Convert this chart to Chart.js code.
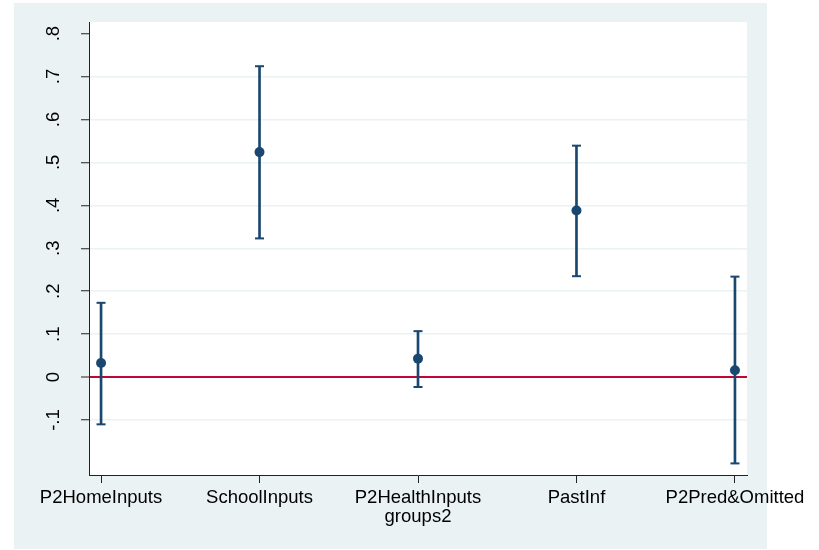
<!DOCTYPE html>
<html>
<head>
<meta charset="utf-8">
<script src="https://cdn.jsdelivr.net/npm/chart.js@4.4.1/dist/chart.umd.min.js"></script>
<style>
	html, body { margin: 0; padding: 0; background: #fff; }
	#bg { position: absolute; left: 14px; top: 3px; width: 753px; height: 546px; background: #eaf2f3; }
	#myChart { position: absolute; left: 0; top: 0; }
</style>
</head>
<body>
<div id="bg"></div>
<canvas id="myChart" width="819" height="550"></canvas>
<script>
// values
const categories = ['P2HomeInputs', 'SchoolInputs', 'P2HealthInputs', 'PastInf', 'P2Pred&Omitted'];
const estimates = [0.033, 0.524, 0.043, 0.388, 0.016];
const lowerCI = [-0.110, 0.323, -0.023, 0.235, -0.201];
const upperCI = [0.173, 0.724, 0.107, 0.539, 0.234];
const yTicks = [-0.1, 0, 0.1, 0.2, 0.3, 0.4, 0.5, 0.6, 0.7, 0.8];
const yTickLabels = ['-.1', '0', '.1', '.2', '.3', '.4', '.5', '.6', '.7', '.8'];
const xTitle = 'groups2';

const navy = '#1a476f';
const red = '#c10534';
const axisColor = '#222';
const gridColor = '#eaf2f3';

Chart.defaults.font.family = '"Liberation Sans", Arial, sans-serif';
Chart.defaults.color = '#000';

// white plot region inside the grey frame
const plotBackground = {
	id: 'plotBackground',
	beforeDraw: (chart) => {
		const { ctx, chartArea } = chart;
		ctx.save();
		ctx.fillStyle = '#fff';
		ctx.fillRect(chartArea.left, chartArea.top, chartArea.width, chartArea.height);
		ctx.restore();
	}
};

const points = categories.map((c, i) => ({ x: i + 1, y: estimates[i] }));
const bars = categories.map((c, i) => ({ x: i + 1, y: [lowerCI[i], upperCI[i]] }));
const caps = [];
for (let i = 0; i < categories.length; i++) {
	caps.push({ x: i + 1, y: lowerCI[i] });
	caps.push({ x: i + 1, y: upperCI[i] });
}

const ctx = document.getElementById('myChart').getContext('2d');
const chart = new Chart(ctx, {
	type: 'scatter',
	data: {
		datasets: [{
			label: 'estimate',
			data: points,
			pointRadius: 5,
			pointBackgroundColor: navy,
			pointBorderWidth: 0,
			pointHoverRadius: 5
		}, {
			label: 'caps',
			data: caps,
			pointStyle: 'line',
			pointRadius: 4.5,
			pointBorderColor: navy,
			pointBorderWidth: 2,
			pointHoverRadius: 4.5
		}, {
			type: 'bar',
			label: 'ci',
			data: bars,
			barThickness: 2,
			backgroundColor: navy,
			borderWidth: 0
		}]
	},
	options: {
		responsive: false,
		animation: false,
		events: [],
		layout: { padding: { top: 22, right: 72, bottom: 0, left: 0 } },
		plugins: {
			legend: { display: false },
			tooltip: { enabled: false }
		},
		scales: {
			x: {
				type: 'linear',
				min: 0.924,
				max: 5.076,
				offset: false,
				afterBuildTicks: (scale) => {
					scale.ticks = categories.map((c, i) => ({ value: i + 1 }));
				},
				afterFit: (scale) => {
					scale.height = 75;
					scale.paddingLeft = 0;
					scale.paddingRight = 0;
				},
				grid: {
					offset: false,
					drawOnChartArea: false,
					drawTicks: true,
					tickLength: 8,
					tickColor: axisColor,
					tickWidth: 1
				},
				border: { display: true, color: axisColor, width: 1 },
				ticks: {
					autoSkip: false,
					maxRotation: 0,
					minRotation: 0,
					padding: 4,
					font: { size: 18.5 },
					color: '#000',
					callback: (value, index) => categories[index]
				},
				title: {
					display: true,
					text: xTitle,
					font: { size: 18.5 },
					color: '#000',
					padding: { top: 0, bottom: 22 }
				}
			},
			y: {
				min: -0.228,
				max: 0.827,
				afterBuildTicks: (scale) => {
					scale.ticks = yTicks.map((v) => ({ value: v }));
				},
				afterFit: (scale) => {
					scale.width = 89;
					scale.paddingTop = 0;
					scale.paddingBottom = 0;
				},
				grid: {
					offset: false,
					color: (c) => {
						const v = c.tick ? Math.round(c.tick.value * 10) / 10 : null;
						if (v === 0) return red;
						if (v === 0.8) return 'rgba(0,0,0,0)';
						return gridColor;
					},
					lineWidth: (c) => (c.tick && Math.abs(c.tick.value) < 1e-9 ? 2 : 1.5),
					drawTicks: true,
					tickLength: 8,
					tickColor: axisColor,
					tickWidth: 1
				},
				border: { display: true, color: axisColor, width: 1 },
				ticks: {
					minRotation: 90,
					maxRotation: 90,
					crossAlign: 'center',
					padding: 16,
					font: { size: 18.5 },
					color: '#000',
					callback: (value, index) => yTickLabels[index]
				}
			}
		}
	},
	plugins: [plotBackground]
});
</script>
</body>
</html>
